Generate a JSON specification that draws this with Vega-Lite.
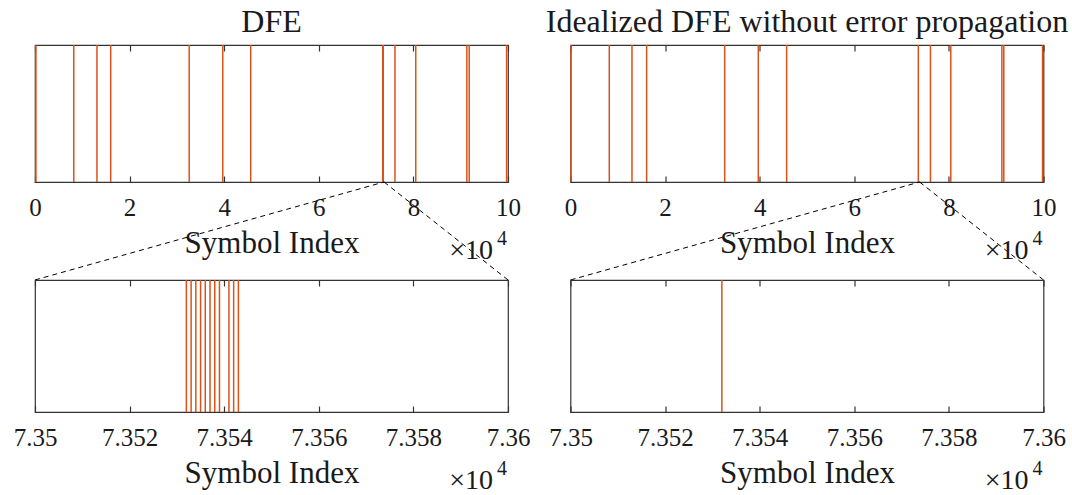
{
  "$schema": "https://vega.github.io/schema/vega-lite/v6.json",
  "padding": {"left": 12, "top": 5, "right": 5, "bottom": 0},
  "background": "white",
  "config": {
    "view": {"stroke": "#333333", "strokeWidth": 1.2},
    "font": "Liberation Serif",
    "title": {"font": "Liberation Serif", "fontSize": 32, "fontWeight": "normal", "color": "#1a1a1a", "offset": 5},
    "axis": {
      "labelFont": "Liberation Serif", "labelFontSize": 25, "labelColor": "#1a1a1a",
      "titleFont": "Liberation Serif", "titleFontSize": 31, "titleFontWeight": "normal", "titleColor": "#1a1a1a",
      "domain": false, "grid": false, "tickSize": -6, "tickColor": "#333333", "tickWidth": 1.2,
      "labelPadding": 19, "titlePadding": 8, "labelFlush": false, "labelOverlap": false
    }
  },
  "datasets": {
    "dfe": [
      {"idx": 200}, {"idx": 8200}, {"idx": 13100}, {"idx": 16000}, {"idx": 32600}, {"idx": 39700}, {"idx": 45600},
      {"idx": 73532}, {"idx": 73533}, {"idx": 73534}, {"idx": 73535}, {"idx": 73536}, {"idx": 73537}, {"idx": 73538}, {"idx": 73539},
      {"idx": 73541}, {"idx": 73542}, {"idx": 73543},
      {"idx": 76100}, {"idx": 80500}, {"idx": 91300}, {"idx": 91800}, {"idx": 99700}
    ],
    "ideal": [
      {"idx": 100}, {"idx": 8200}, {"idx": 13000}, {"idx": 16100}, {"idx": 32600}, {"idx": 39700}, {"idx": 45700},
      {"idx": 73532}, {"idx": 76100}, {"idx": 80400}, {"idx": 91200}, {"idx": 91600}, {"idx": 99800}
    ],
    "zoom": [
      {"seg": "left", "x": 73800, "y": 0}, {"seg": "left", "x": 0, "y": -0.715},
      {"seg": "right", "x": 73800, "y": 0}, {"seg": "right", "x": 100000, "y": -0.715}
    ]
  },
  "bounds": "flush",
  "columns": 2,
  "spacing": {"row": 98, "column": 62.5},
  "concat": [
    {
      "width": 473, "height": 137,
      "title": "DFE",
      "layer": [
        {
          "data": {"name": "dfe"},
          "mark": {"type": "rule", "color": "#D95319", "strokeWidth": 1.5},
          "encoding": {"x": {"field": "idx", "type": "quantitative", "scale": {"domain": [0, 100000], "nice": false, "zero": false},
            "axis": {"title": "Symbol Index", "values": [0, 20000, 40000, 60000, 80000, 100000], "labelExpr": "format(datum.value/10000, 'd')"}}}
        },
        {
          "data": {"name": "zoom"},
          "mark": {"type": "line", "color": "black", "strokeWidth": 1, "strokeDash": [5, 4], "clip": false},
          "encoding": {
            "x": {"field": "x", "type": "quantitative", "scale": {"domain": [0, 100000], "nice": false, "zero": false},
              "axis": {"orient": "top", "labels": false, "title": null, "values": [0, 20000, 40000, 60000, 80000, 100000]}},
            "y": {"field": "y", "type": "quantitative", "scale": {"domain": [0, 1], "nice": false, "zero": false}, "axis": null},
            "detail": {"field": "seg"}
          }
        },
        {
          "data": {"values": [{}]},
          "mark": {"type": "text", "align": "right", "baseline": "alphabetic", "fontSize": 28, "dx": -15, "color": "#1a1a1a", "clip": false},
          "encoding": {"x": {"datum": 100000, "scale": {"domain": [0, 100000], "nice": false, "zero": false}, "axis": null}, "y": {"datum": -0.565}, "text": {"value": "×10"}}
        },
        {
          "data": {"values": [{}]},
          "mark": {"type": "text", "align": "right", "baseline": "alphabetic", "fontSize": 20, "dx": -1, "dy": -14, "color": "#1a1a1a", "clip": false},
          "encoding": {"x": {"datum": 100000, "scale": {"domain": [0, 100000], "nice": false, "zero": false}, "axis": null}, "y": {"datum": -0.565}, "text": {"value": "4"}}
        }
      ],
      "resolve": {"scale": {"x": "independent"}, "axis": {"x": "independent"}}
    },
    {
      "width": 473, "height": 137,
      "title": "Idealized DFE without error propagation",
      "layer": [
        {
          "data": {"name": "ideal"},
          "mark": {"type": "rule", "color": "#D95319", "strokeWidth": 1.5},
          "encoding": {"x": {"field": "idx", "type": "quantitative", "scale": {"domain": [0, 100000], "nice": false, "zero": false},
            "axis": {"title": "Symbol Index", "values": [0, 20000, 40000, 60000, 80000, 100000], "labelExpr": "format(datum.value/10000, 'd')"}}}
        },
        {
          "data": {"name": "zoom"},
          "mark": {"type": "line", "color": "black", "strokeWidth": 1, "strokeDash": [5, 4], "clip": false},
          "encoding": {
            "x": {"field": "x", "type": "quantitative", "scale": {"domain": [0, 100000], "nice": false, "zero": false},
              "axis": {"orient": "top", "labels": false, "title": null, "values": [0, 20000, 40000, 60000, 80000, 100000]}},
            "y": {"field": "y", "type": "quantitative", "scale": {"domain": [0, 1], "nice": false, "zero": false}, "axis": null},
            "detail": {"field": "seg"}
          }
        },
        {
          "data": {"values": [{}]},
          "mark": {"type": "text", "align": "right", "baseline": "alphabetic", "fontSize": 28, "dx": -15, "color": "#1a1a1a", "clip": false},
          "encoding": {"x": {"datum": 100000, "scale": {"domain": [0, 100000], "nice": false, "zero": false}, "axis": null}, "y": {"datum": -0.565}, "text": {"value": "×10"}}
        },
        {
          "data": {"values": [{}]},
          "mark": {"type": "text", "align": "right", "baseline": "alphabetic", "fontSize": 20, "dx": -1, "dy": -14, "color": "#1a1a1a", "clip": false},
          "encoding": {"x": {"datum": 100000, "scale": {"domain": [0, 100000], "nice": false, "zero": false}, "axis": null}, "y": {"datum": -0.565}, "text": {"value": "4"}}
        }
      ],
      "resolve": {"scale": {"x": "independent"}, "axis": {"x": "independent"}}
    },
    {
      "width": 473, "height": 132,
      "layer": [
        {
          "data": {"name": "dfe"},
          "transform": [{"filter": "datum.idx >= 73500 && datum.idx <= 73600"}],
          "mark": {"type": "rule", "color": "#D95319", "strokeWidth": 1.5},
          "encoding": {"x": {"field": "idx", "type": "quantitative", "scale": {"domain": [73500, 73600], "nice": false, "zero": false},
            "axis": {"title": "Symbol Index", "values": [73500, 73520, 73540, 73560, 73580, 73600], "labelExpr": "format(datum.value/10000, '~g')"}}}
        },
        {
          "data": {"values": [{}]},
          "mark": {"type": "text", "align": "right", "baseline": "alphabetic", "fontSize": 28, "dx": -15, "color": "#1a1a1a", "clip": false},
          "encoding": {"x": {"datum": 73600, "scale": {"domain": [73500, 73600], "nice": false, "zero": false},
              "axis": {"orient": "top", "labels": false, "title": null, "values": [73500, 73520, 73540, 73560, 73580, 73600]}},
            "y": {"datum": -0.585, "scale": {"domain": [0, 1], "nice": false, "zero": false}, "axis": null}, "text": {"value": "×10"}}
        },
        {
          "data": {"values": [{}]},
          "mark": {"type": "text", "align": "right", "baseline": "alphabetic", "fontSize": 20, "dx": -1, "dy": -14, "color": "#1a1a1a", "clip": false},
          "encoding": {"x": {"datum": 73600, "scale": {"domain": [73500, 73600], "nice": false, "zero": false}, "axis": null}, "y": {"datum": -0.585}, "text": {"value": "4"}}
        }
      ],
      "resolve": {"scale": {"x": "independent"}, "axis": {"x": "independent"}}
    },
    {
      "width": 473, "height": 132,
      "layer": [
        {
          "data": {"name": "ideal"},
          "transform": [{"filter": "datum.idx >= 73500 && datum.idx <= 73600"}],
          "mark": {"type": "rule", "color": "#D95319", "strokeWidth": 1.5},
          "encoding": {"x": {"field": "idx", "type": "quantitative", "scale": {"domain": [73500, 73600], "nice": false, "zero": false},
            "axis": {"title": "Symbol Index", "values": [73500, 73520, 73540, 73560, 73580, 73600], "labelExpr": "format(datum.value/10000, '~g')"}}}
        },
        {
          "data": {"values": [{}]},
          "mark": {"type": "text", "align": "right", "baseline": "alphabetic", "fontSize": 28, "dx": -15, "color": "#1a1a1a", "clip": false},
          "encoding": {"x": {"datum": 73600, "scale": {"domain": [73500, 73600], "nice": false, "zero": false},
              "axis": {"orient": "top", "labels": false, "title": null, "values": [73500, 73520, 73540, 73560, 73580, 73600]}},
            "y": {"datum": -0.585, "scale": {"domain": [0, 1], "nice": false, "zero": false}, "axis": null}, "text": {"value": "×10"}}
        },
        {
          "data": {"values": [{}]},
          "mark": {"type": "text", "align": "right", "baseline": "alphabetic", "fontSize": 20, "dx": -1, "dy": -14, "color": "#1a1a1a", "clip": false},
          "encoding": {"x": {"datum": 73600, "scale": {"domain": [73500, 73600], "nice": false, "zero": false}, "axis": null}, "y": {"datum": -0.585}, "text": {"value": "4"}}
        }
      ],
      "resolve": {"scale": {"x": "independent"}, "axis": {"x": "independent"}}
    }
  ]
}
